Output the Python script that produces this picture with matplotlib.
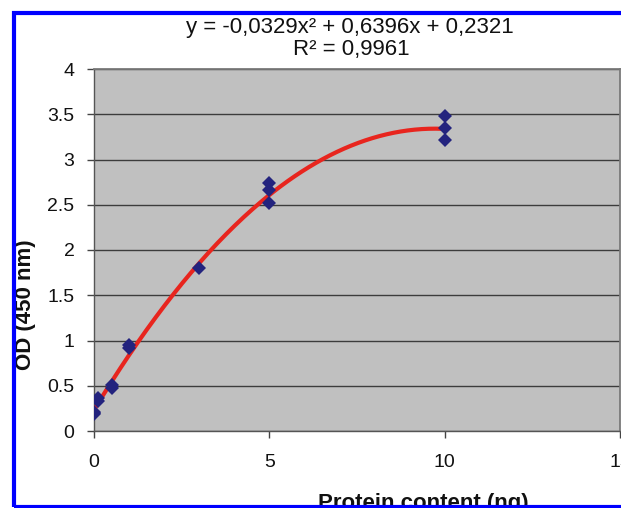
import matplotlib
matplotlib.use("Agg")
import matplotlib.pyplot as plt
import numpy as np
from matplotlib.patches import Rectangle
from matplotlib.ticker import FuncFormatter, MultipleLocator

plt.rcParams["font.family"] = ["Liberation Sans", "DejaVu Sans"]

# Measured OD values (triplicates, some overlapping)
protein_ng = [0, 0, 0, 0.1, 0.1, 0.5, 0.5, 1, 1, 3, 5, 5, 5, 10, 10, 10]
od_450 = [0.19, 0.2, 0.21, 0.33, 0.36, 0.47, 0.51, 0.92, 0.95, 1.8,
          2.52, 2.66, 2.74, 3.21, 3.35, 3.48]

# Excel polynomial trendline as printed on the chart
trend_coef = [-0.0329, 0.6396, 0.2321]
trend_text = "y = -0,0329x\u00b2 + 0,6396x + 0,2321"
r2_text = "R\u00b2 = 0,9961"

W, H = 621, 508
fig = plt.figure(figsize=(W / 100, H / 100), dpi=100)

ax = fig.add_axes([94 / W, (H - 431) / H, 526 / W, 362 / H])
ax.set_facecolor("#c0c0c0")

# trendline over the data range
xs = np.linspace(min(protein_ng), max(protein_ng), 200)
ax.plot(xs, np.polyval(trend_coef, xs), color="#e8251e", lw=3.0, zorder=3,
        solid_capstyle="round")
ax.plot(protein_ng, od_450, "D", color="#23237e", ms=7.5, mew=0, zorder=4)

ax.set_xlim(0, 15)
ax.set_ylim(0, 4)
ax.xaxis.set_major_locator(MultipleLocator(5))
ax.yaxis.set_major_locator(MultipleLocator(0.5))
ax.yaxis.set_major_formatter(FuncFormatter(lambda v, _: f"{v:g}"))

ax.yaxis.grid(True, color="#3c3c3c", lw=1.0)
ax.set_axisbelow(True)

for side in ["left", "bottom"]:
    ax.spines[side].set_color("#555555")
    ax.spines[side].set_linewidth(1.0)
for side in ["top", "right"]:
    ax.spines[side].set_color("#7a7a7a")
    ax.spines[side].set_linewidth(1.3)

ax.tick_params(axis="both", direction="out", length=5, width=1,
               color="#444444", labelsize=14, labelcolor="#111111")
ax.tick_params(axis="y", pad=9)
ax.tick_params(axis="x", pad=11.5)

# equation and R^2 above the plot
fig.text(350 / W, 1 - 33 / H, trend_text, ha="center", va="baseline",
         fontsize=16, color="#111111")
fig.text(351 / W, 1 - 55 / H, r2_text, ha="center", va="baseline",
         fontsize=16, color="#111111")

# axis titles
fig.text(25 / W, 1 - 305 / H, "OD (450 nm)", rotation=90, ha="center",
         va="center", fontsize=16, weight="bold", color="#111111")
fig.text(423 / W, 1 - 509 / H, "Protein content (ng)", ha="center",
         va="baseline", fontsize=16, weight="bold", color="#111111")

# blue frame of the original figure (right side cropped)
fig.patches.append(Rectangle((14 / W, 1 - 506.5 / H), 700 / W, 494 / H,
                             transform=fig.transFigure, fill=False,
                             edgecolor="#0000ff", lw=3, zorder=10))

fig.savefig("out.png", dpi=100)
